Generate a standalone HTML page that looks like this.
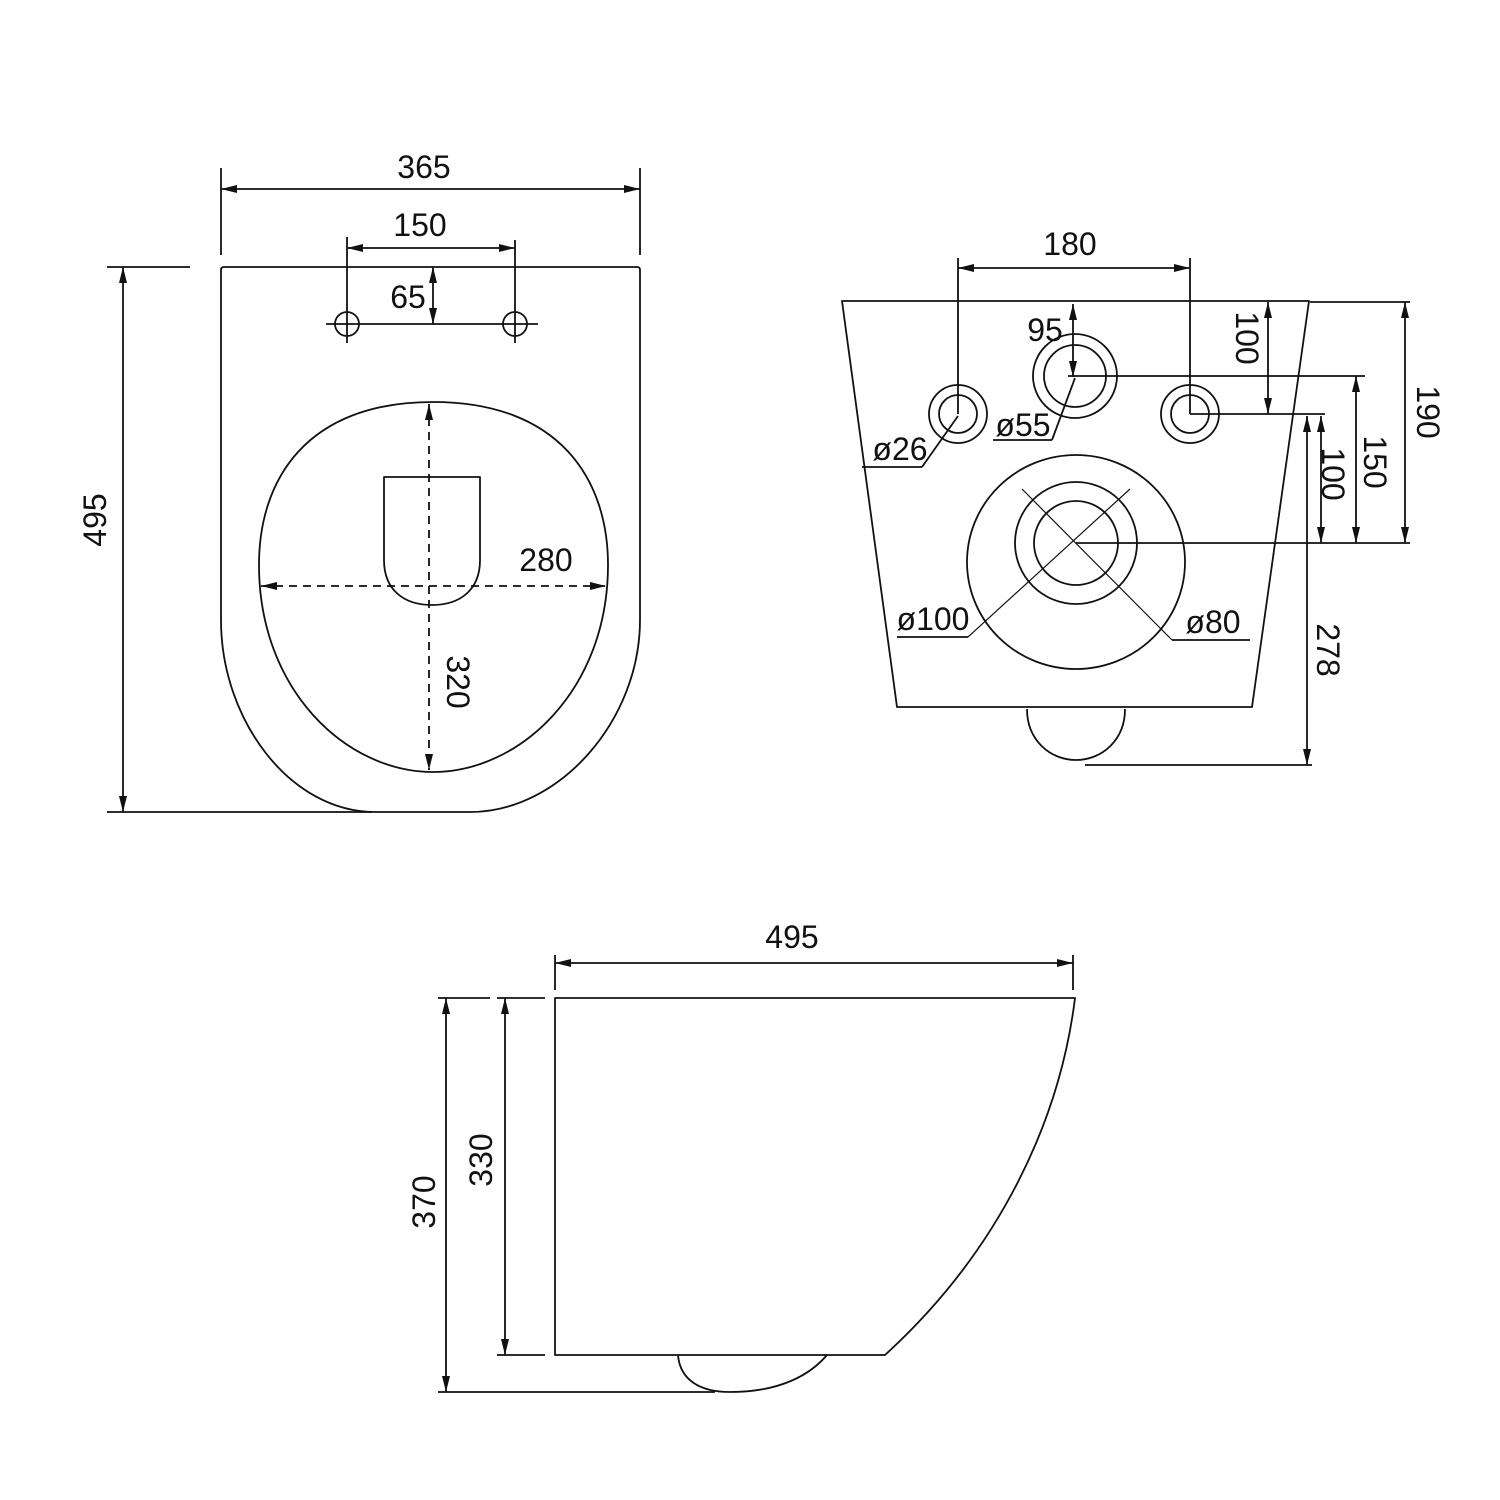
<!DOCTYPE html>
<html><head><meta charset="utf-8"><style>
html,body{margin:0;padding:0;background:#fff;}
svg{display:block;}
text{font-family:"Liberation Sans",sans-serif;font-size:32px;fill:#111;}
</style></head><body>
<svg width="1500" height="1500" viewBox="0 0 1500 1500" xmlns="http://www.w3.org/2000/svg">
<defs>
<marker id="a" viewBox="0 0 16 8" refX="16" refY="4" markerWidth="16" markerHeight="8" markerUnits="userSpaceOnUse" orient="auto-start-reverse">
<path d="M0,0 L16,4 L0,8 Z" fill="#111"/></marker>
</defs>
<g fill="none" stroke="#111" stroke-width="1.8" stroke-linejoin="round">
<!-- TOP VIEW -->
<path d="M224,267 L637,267 Q640,267 640,270 L640,620 C640,720 560,812 470,812 L375,812 C290,812 221,720 221,620 L221,270 Q221,267 224,267 Z"/>
<path d="M433,402 C560,402 608,480 608,565 C608,690 520,772 433,772 C346,772 259,690 259,565 C259,480 306,402 433,402 Z"/>
<path d="M384,477 L480,477 L480,560 C480,590 460,605 432,605 C404,605 384,590 384,560 Z"/>
<line x1="429" y1="404" x2="429" y2="770" stroke-dasharray="8,6" marker-start="url(#a)" marker-end="url(#a)"/>
<line x1="261" y1="586" x2="606" y2="586" stroke-dasharray="8,6" marker-start="url(#a)" marker-end="url(#a)"/>
<circle cx="347" cy="324" r="12"/><circle cx="515" cy="324" r="12"/>
<line x1="326" y1="324" x2="538" y2="324"/>
<line x1="347" y1="237" x2="347" y2="343"/><line x1="515" y1="240" x2="515" y2="343"/>
<line x1="347" y1="248" x2="515" y2="248" marker-start="url(#a)" marker-end="url(#a)"/>
<line x1="433" y1="267" x2="433" y2="324" marker-start="url(#a)" marker-end="url(#a)"/>
<line x1="221" y1="168" x2="221" y2="255"/><line x1="640" y1="168" x2="640" y2="255"/>
<line x1="221" y1="189" x2="640" y2="189" marker-start="url(#a)" marker-end="url(#a)"/>
<line x1="123" y1="267" x2="123" y2="812" marker-start="url(#a)" marker-end="url(#a)"/>
<line x1="107" y1="267" x2="190" y2="267"/><line x1="107" y1="812" x2="372" y2="812"/>
<!-- FRONT VIEW -->
<path d="M842,301 L1309,301 L1252,707 L897,707 Z"/>
<path d="M1027,709 C1027,740 1050,760 1076,760 C1102,760 1125,740 1125,709"/>
<circle cx="958" cy="414" r="29"/><circle cx="958" cy="414" r="19"/>
<circle cx="1075" cy="376" r="42"/><circle cx="1075" cy="376" r="31"/>
<circle cx="1190" cy="414" r="29"/><circle cx="1190" cy="414" r="19"/>
<ellipse cx="1076" cy="562" rx="109" ry="107"/>
<circle cx="1076" cy="543" r="61"/><circle cx="1076" cy="543" r="42"/>
<line x1="1022" y1="489" x2="1172" y2="640" stroke-width="1.2"/>
<line x1="1130" y1="489" x2="968" y2="637" stroke-width="1.2"/>
<line x1="897" y1="637" x2="968" y2="637"/><line x1="1172" y1="640" x2="1250" y2="640"/>
<line x1="1076" y1="543" x2="1410" y2="543"/>
<line x1="958" y1="258" x2="958" y2="414"/><line x1="1190" y1="258" x2="1190" y2="414"/>
<line x1="958" y1="268" x2="1190" y2="268" marker-start="url(#a)" marker-end="url(#a)"/>
<line x1="1073" y1="304" x2="1073" y2="377" marker-start="url(#a)" marker-end="url(#a)"/>
<line x1="1068" y1="376" x2="1365" y2="376"/>
<line x1="1075" y1="378" x2="1052" y2="440"/><line x1="993" y1="440" x2="1052" y2="440"/>
<line x1="958" y1="416" x2="922" y2="467"/><line x1="862" y1="467" x2="922" y2="467"/>
<line x1="1190" y1="414" x2="1325" y2="414"/>
<line x1="1268" y1="302" x2="1268" y2="414" marker-start="url(#a)" marker-end="url(#a)"/>
<line x1="1310" y1="302" x2="1410" y2="302"/>
<line x1="1405" y1="302" x2="1405" y2="543" marker-start="url(#a)" marker-end="url(#a)"/>
<line x1="1356" y1="376" x2="1356" y2="543" marker-start="url(#a)" marker-end="url(#a)"/>
<line x1="1321" y1="416" x2="1321" y2="543" marker-start="url(#a)" marker-end="url(#a)"/>
<line x1="1307" y1="416" x2="1307" y2="765" marker-start="url(#a)" marker-end="url(#a)"/>
<line x1="1085" y1="765" x2="1312" y2="765"/>
<!-- SIDE VIEW -->
<path d="M555,998 L1075,998 C1060,1120 1000,1250 885,1355 L555,1355 Z"/>
<path d="M678,1355 C680,1380 700,1392 730,1392 C780,1392 810,1375 827,1355"/>
<line x1="555" y1="955" x2="555" y2="990"/><line x1="1073" y1="955" x2="1073" y2="990"/>
<line x1="555" y1="963" x2="1073" y2="963" marker-start="url(#a)" marker-end="url(#a)"/>
<line x1="497" y1="998" x2="545" y2="998"/><line x1="497" y1="1355" x2="545" y2="1355"/>
<line x1="438" y1="998" x2="490" y2="998"/><line x1="438" y1="1392" x2="715" y2="1392"/>
<line x1="505" y1="998" x2="505" y2="1355" marker-start="url(#a)" marker-end="url(#a)"/>
<line x1="446" y1="998" x2="446" y2="1392" marker-start="url(#a)" marker-end="url(#a)"/>
</g>
<g text-anchor="middle">
<text x="424" y="178">365</text>
<text x="420" y="236">150</text>
<text x="408" y="308">65</text>
<text x="546" y="571">280</text>
<text transform="translate(447,682) rotate(90)">320</text>
<text transform="translate(106,520) rotate(-90)">495</text>
<text x="1070" y="255">180</text>
<text x="1045" y="341">95</text>
<text x="1023" y="436">ø55</text>
<text x="900" y="460">ø26</text>
<text x="933" y="630">ø100</text>
<text x="1213" y="633">ø80</text>
<text transform="translate(1236,338) rotate(90)">100</text>
<text transform="translate(1417,412) rotate(90)">190</text>
<text transform="translate(1364,462) rotate(90)">150</text>
<text transform="translate(1322,474) rotate(90)">100</text>
<text transform="translate(1317,650) rotate(90)">278</text>
<text x="792" y="948">495</text>
<text transform="translate(492,1160) rotate(-90)">330</text>
<text transform="translate(435,1202) rotate(-90)">370</text>
</g>
</svg>
</body></html>
